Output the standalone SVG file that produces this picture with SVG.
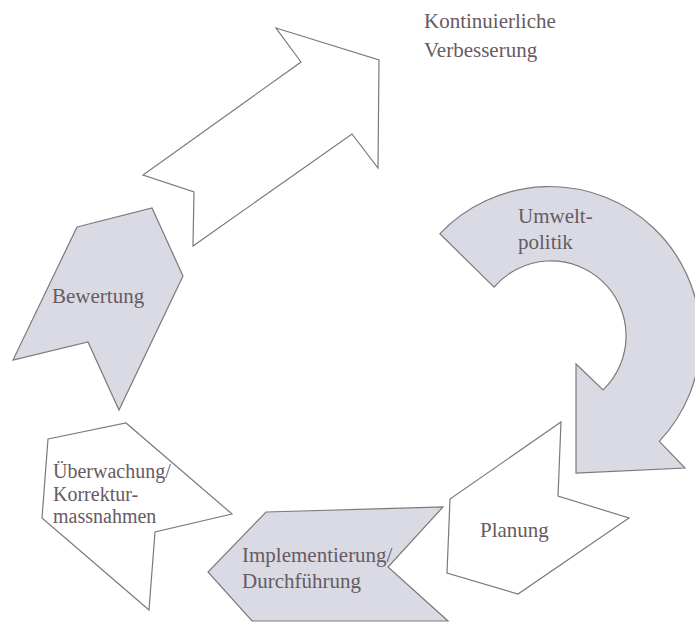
<svg xmlns="http://www.w3.org/2000/svg" width="695" height="625" viewBox="0 0 695 625">
  <style>
    .shape { stroke: #7a7a7a; stroke-width: 1.2; stroke-linejoin: miter; }
    .white { fill: #ffffff; }
    .grey { fill: #d9dae4; }
    .lbl { font-family: 'Liberation Serif', 'DejaVu Serif', serif; font-size: 21px; fill: #675a62; }
    .tight { font-size: 20px; }
  </style>
  <rect width="695" height="625" fill="#ffffff"/>
  <g id="connectors"></g>
  <g id="verbesserung">
    <polygon class="shape white" points="276,28 379,60 378,168 352,134 193,246 194,192 143,175 301,62"/>
    <text class="lbl" x="424" y="28">Kontinuierliche</text>
    <text class="lbl" x="424" y="57">Verbesserung</text>
  </g>
  <g id="umweltpolitik">
    <path class="shape grey" d="M439.8,233.8 A151,151 0 1 1 659.3,441.3 L685,468 L576,473 L576,364 L603.1,389.9 A75,75 0 1 0 494.1,287.1 Z"/>
    <text class="lbl" x="518" y="223">Umwelt-</text>
    <text class="lbl" x="518" y="249">politik</text>
  </g>
  <g id="planung">
    <polygon class="shape white" points="561,422 558,496 629,518 518,594 447,573 450,499"/>
    <text class="lbl" x="480" y="537">Planung</text>
  </g>
  <g id="implementierung">
    <polygon class="shape grey" points="266,512 443,507 388,567 448,621 252,621 208,572"/>
    <text class="lbl" x="242" y="562">Implementierung/</text>
    <text class="lbl" x="242" y="588">Durchführung</text>
  </g>
  <g id="ueberwachung">
    <polygon class="shape white" points="48,439 126,423 232,514 155,532 149,610 42,518"/>
    <text class="lbl tight" x="53" y="478">Überwachung/</text>
    <text class="lbl tight" x="53" y="500.5">Korrektur-</text>
    <text class="lbl tight" x="53" y="523">massnahmen</text>
  </g>
  <g id="bewertung">
    <polygon class="shape grey" points="77,227 152,208 183,276 119,410 88,342 13,360"/>
    <text class="lbl" x="52" y="303">Bewertung</text>
  </g>
</svg>
